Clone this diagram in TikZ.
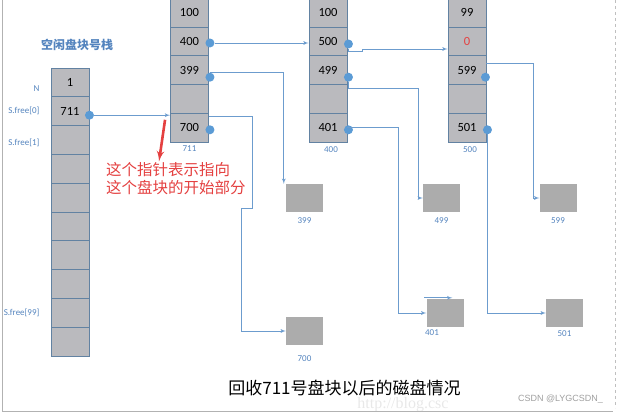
\documentclass[tikz,border=0pt]{standalone}
\usepackage{fontspec}
\setmainfont{Carlito}
\newfontfamily\cjk{Noto Sans CJK SC}
\newfontfamily\wmsans{Liberation Sans}
\newfontfamily\wmserif{Liberation Serif}
\usetikzlibrary{shapes,arrows,positioning}
\definecolor{cellgray}{RGB}{186,186,190}
\definecolor{cellline}{RGB}{98,130,162}
\definecolor{boxgray}{RGB}{172,172,172}
\definecolor{ptrblue}{RGB}{91,155,213}
\definecolor{lineblue}{RGB}{108,156,206}
\definecolor{tagblue}{RGB}{84,132,190}
\definecolor{notered}{RGB}{228,64,64}
\tikzstyle{cell} = [rectangle, draw=cellline, line width=0.9pt, fill=cellgray,
    minimum width=38pt, minimum height=28.8pt, inner sep=0pt, font=\fontsize{12.5}{14}\selectfont]
\tikzstyle{blk} = [rectangle, fill=boxgray, minimum width=37pt, minimum height=28pt, inner sep=0pt]
\tikzstyle{dot} = [circle, fill=ptrblue, minimum size=9pt, inner sep=0pt]
\tikzstyle{tag} = [text=tagblue, font=\fontsize{9}{10}\selectfont, inner sep=1pt]
\tikzstyle{line} = [draw=lineblue, line width=0.8pt, -latex']
\tikzstyle{redptr} = [draw=notered, line width=2.6pt, -latex']

\begin{document}
\begin{tikzpicture}[x=1pt, y=1pt, node distance=28.8pt]
		\useasboundingbox (0,0) rectangle (618,414);

		\node [cell] (s0) at (70,331.6) {1};
		\node [cell, below of=s0] (s1) {711};
		\node [cell, below of=s1] (s2) {};
		\node [cell, below of=s2] (s3) {};
		\node [cell, below of=s3] (s4) {};
		\node [cell, below of=s4] (s5) {};
		\node [cell, below of=s5] (s6) {};
		\node [cell, below of=s6] (s7) {};
		\node [cell, below of=s7] (s8) {};
		\node [cell, below of=s8] (s9) {};
		\node [text=tagblue, font=\cjk\bfseries\fontsize{12}{14}\selectfont] (stack) at (77,369) {空闲盘块号栈};
		\node [tag, left=10pt of s0, yshift=-6.5pt] (ln) {N};
		\node [tag, left=10pt of s1] (lf0) {S.free[0]};
		\node [tag, left=10pt of s2, yshift=-3pt] (lf1) {S.free[1]};
		\node [tag, left=10pt of s8] (lf99) {S.free[99]};

		\node [cell] (a0) at (189.5,401.4) {100};
		\node [cell, below of=a0] (a1) {400};
		\node [cell, below of=a1] (a2) {399};
		\node [cell, below of=a2] (a3) {};
		\node [cell, below of=a3] (a4) {700};
		\node [tag, below=2pt of a4] (t711) {711};

		\node [cell] (b0) at (328,401.4) {100};
		\node [cell, below of=b0] (b1) {500};
		\node [cell, below of=b1] (b2) {499};
		\node [cell, below of=b2] (b3) {};
		\node [cell, below of=b3] (b4) {401};
		\node [tag, below=3pt of b4, xshift=3pt] (t400) {400};

		\node [cell] (c0) at (467,401.4) {99};
		\node [cell, below of=c0] (c1) {\color{notered}0};
		\node [cell, below of=c1] (c2) {599};
		\node [cell, below of=c2] (c3) {};
		\node [cell, below of=c3] (c4) {501};
		\node [tag, below=3pt of c4, xshift=3pt] (t500) {500};

		\node [blk] (n399) at (304.5,216) {};
		\node [blk] (n499) at (441.5,216) {};
		\node [blk] (n599) at (558,216) {};
		\node [blk] (n401) at (445,101) {};
		\node [blk] (n501) at (564.5,101) {};
		\node [blk] (n700) at (304.5,83) {};
		\node [tag, below=4pt of n399] {399};
		\node [tag, below=4pt of n499] {499};
		\node [tag, below=4pt of n599] {599};
		\node [tag, below=1pt of n401, xshift=-13pt] {401};
		\node [tag, below=2pt of n501] {501};
		\node [tag, below=9pt of n700] {700};

		\node [dot] (ds1) at ([yshift=-4pt]s1.east) {};
		\node [dot] (da1) at ([xshift=1pt,yshift=-1.6pt]a1.east) {};
		\node [dot] (da2) at ([xshift=1pt,yshift=-7pt]a2.east) {};
		\node [dot] (da4) at ([xshift=1pt,yshift=-2pt]a4.east) {};
		\node [dot] (db1) at ([xshift=1pt,yshift=-2.6pt]b1.east) {};
		\node [dot] (db2) at ([xshift=1pt,yshift=-7pt]b2.east) {};
		\node [dot] (db4) at ([xshift=1pt,yshift=-2pt]b4.east) {};
		\node [dot] (dc2) at ([xshift=-1pt,yshift=-7pt]c2.east) {};
		\node [dot] (dc4) at ([xshift=1pt,yshift=-2pt]c4.east) {};

		\path [line] (ds1) -- (ds1 -| a4.west);
		\path [line] (da1) -- (da1 -| b1.west);
		\path [line] (da2.north) -| ([xshift=-2pt]n399.north west);
		\path [line] ([yshift=11pt]a4.east) -- ++(43,0) -- ++(0,-92) -- ++(-11,0) |- (n700.west);
		\path [line] (db1.south) |- ++(14,-3) |- ([yshift=-7.6pt]c1.west);
		\path [line] (db2) -- ++(0,-11) -| ([xshift=-4pt]n499.west) -- (n499.west);
		\path [line] (b4.east) -| ([xshift=-28pt]n401.west) -- (n401.west);
		\path [line] ([xshift=-2pt,yshift=1pt]n401.north west) -- ++(28,0);
		\path [line] ([yshift=7pt]c2.east) -| ([xshift=-6pt]n599.west) -- (n599.west);
		\path [line] (dc4) |- (n501.west);

		\node [text=notered, font=\cjk\fontsize{15.5}{18}\selectfont, align=left, anchor=north west, inner sep=0pt] (note) at (106,251.5) {这个指针表示指向\\这个盘块的开始部分};
		\path [redptr] ([xshift=-5pt,yshift=8pt]a4.west) -- ([xshift=53pt,yshift=1pt]note.north west);

		\node [text=gray!18, font=\wmserif\fontsize{16}{18}\selectfont] (wm) at (403,9) {http://blog.csc};
		\node [font=\cjk\fontsize{17}{20}\selectfont] (caption) at (344.5,26) {回收711号盘块以后的磁盘情况};
		\node [text=gray!75, font=\wmsans\fontsize{9}{10}\selectfont] (csdn) at (560.5,15) {CSDN @LYGCSDN\_};

		\draw [gray!60, line width=1pt] (2,414) -- (2,2) -- (613,2);
		\draw [gray!50, dashed] (615,414) -- (615,6);
	\end{tikzpicture}
\end{document}
